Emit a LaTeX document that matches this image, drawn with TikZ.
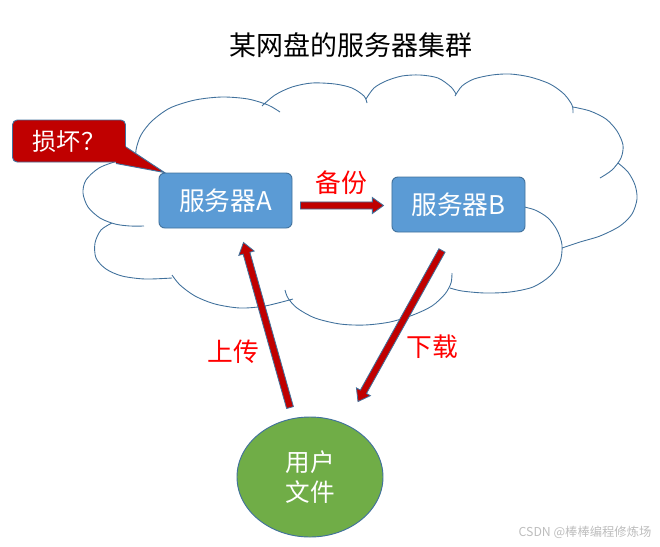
\documentclass[tikz,border=0pt]{standalone}
\usepackage{fontspec}
\setmainfont{Noto Sans CJK SC}
\usetikzlibrary{calc,shapes.geometric}
\definecolor{srvfill}{HTML}{5B9BD5}
\definecolor{edgeblue}{HTML}{41719C}
\definecolor{dmgred}{HTML}{C00000}
\definecolor{filegreen}{HTML}{70AD47}
\definecolor{markgray}{HTML}{BDBDBD}
\tikzset{
  cloudline/.style={draw=edgeblue,line width=.75pt},
  srvbox/.style={draw=edgeblue,fill=srvfill,rounded corners=5pt,line width=.8pt,
    minimum width=3.99cm,minimum height=1.65cm,inner sep=0pt,text=white,
    font=\fontsize{22}{26}\selectfont},
  dmgbox/.style={draw=edgeblue,fill=dmgred,rounded corners=4pt,line width=.8pt,
    minimum width=3.39cm,minimum height=1.26cm,inner sep=0pt,text=white,
    font=\fontsize{20.5}{24}\selectfont},
  filenode/.style={ellipse,draw=edgeblue,fill=filegreen,line width=.8pt,
    minimum width=4.38cm,minimum height=3.6cm,inner sep=0pt,align=center,
    text=white,font=\fontsize{21}{25}\selectfont},
  blockarr/.style={fill=dmgred,draw=edgeblue,line width=.7pt},
  lbl/.style={text=red,font=\fontsize{22}{26}\selectfont},
}
% block arrow from #1 to #2
\newcommand{\blockarrow}[2]{%
  \path ($(#2)!9.5pt!(#1)$) coordinate (ah);
  \filldraw[blockarr] ($(#1)!3pt!90:(#2)$) -- ($(ah)!3pt!90:(#2)$)
    -- ($(ah)!6.8pt!90:(#2)$) -- (#2) -- ($(ah)!6.8pt!-90:(#2)$)
    -- ($(ah)!3pt!-90:(#2)$) -- ($(#1)!3pt!-90:(#2)$) -- cycle;}
\begin{document}
\begin{tikzpicture}[x=.03cm,y=-.03cm]
  \useasboundingbox (0,0) rectangle (660,546);
  % cloud
  \draw[cloudline]
    plot[smooth] coordinates {(136,159) (118,161) (99,168) (86,180) (83,193) (88,207) (100,218) (115,224) (130,226) (144,226)}
    plot[smooth] coordinates {(136,163) (136,150) (141,135) (152,121) (170,108) (195,100) (222,97) (248,99) (268,105) (280,112)}
    plot[smooth] coordinates {(262,106) (275,95) (292,87) (312,83) (335,84) (352,88) (364,96) (367,103)}
    plot[smooth] coordinates {(366,99) (374,88) (386,81) (402,76) (420,75) (438,78) (451,87) (456,94)}
    plot[smooth] coordinates {(455,96) (462,86) (474,79) (492,75) (510,74) (530,77) (550,84) (564,94) (572,105) (573,113)}
    plot[smooth] coordinates {(573,107) (590,111) (606,119) (617,131) (623,145) (621,158) (612,170) (600,178)}
    plot[smooth] coordinates {(618,163) (628,172) (635,185) (637,199) (632,214) (620,226) (600,236) (580,242) (562,248)}
    plot[smooth] coordinates {(520,206) (535,210) (548,218) (557,230) (562,245) (560,262) (550,276) (533,287) (510,292) (485,293) (462,291) (450,288)}
    plot[smooth] coordinates {(452,273) (451,283) (445,294) (432,306) (413,315) (390,322) (365,325) (340,324) (315,318) (297,308) (288,298) (285,290)}
    plot[smooth] coordinates {(172,275) (180,285) (195,296) (215,304) (240,308) (265,306) (293,299)}
    plot[smooth] coordinates {(112,223) (101,230) (95,243) (96,258) (106,269) (122,276) (145,279) (172,278)};
  \node (title) at (351,45) {\fontsize{23}{27}\selectfont 某网盘的服务器集群};
  \node[srvbox] (srvA) at (225.5,200.5) {服务器A};
  \node[srvbox] (srvB) at (458.5,204.5) {服务器B};
  \node[filenode] (file) at (310,477) {用户\\文件};
  \node[dmgbox] (dmg) at (69,141) {损坏？};
  % callout tail
  \coordinate (dmgTip) at ($(srvA.north west)+(6,0)$);
  \coordinate (tailA) at ($(dmg.east)+(0,6)$);
  \coordinate (tailB) at ($(dmg.south east)+(-10,1)$);
  \fill[dmgred] (tailA) -- (dmgTip) -- (tailB) -- ($(dmg.east)+(-6,0)$) -- cycle;
  \draw[edgeblue,line width=.8pt] (tailA) -- (dmgTip) -- (tailB);
  % arrows
  \coordinate (bkS) at ($(srvA.east)+(8,5)$);
  \coordinate (bkE) at ($(srvB.west)+(-8,1)$);
  \coordinate (upS) at ($(file.north)+(-20,-9)$);
  \coordinate (upE) at ($(srvA.south)+(18,14)$);
  \coordinate (dnS) at ($(srvB.south)+(-16.5,18)$);
  \coordinate (dnE) at ($(file.north)+(48,-15)$);
  \blockarrow{bkS}{bkE}
  \blockarrow{upS}{upE}
  \blockarrow{dnS}{dnE}
  \node[lbl] (bkLbl) at (341,183) {备份};
  \node[lbl] (upLbl) at (233,352) {上传};
  \node[lbl] (dnLbl) at (432,347) {下载};
  \node[text=markgray,font=\fontsize{10.5}{12}\selectfont] (mark) at (585,532) {CSDN @棒棒编程修炼场};
\end{tikzpicture}
\end{document}
